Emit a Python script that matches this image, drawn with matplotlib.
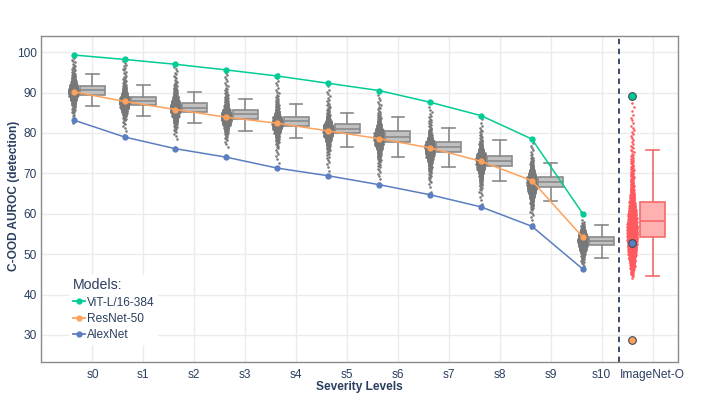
import matplotlib
matplotlib.use('Agg')
import matplotlib.pyplot as plt
from matplotlib.lines import Line2D
import numpy as np

plt.rcParams['font.family'] = ['Liberation Sans', 'DejaVu Sans']

# ---------------- data ----------------
categories = ['s0', 's1', 's2', 's3', 's4', 's5', 's6', 's7', 's8', 's9', 's10', 'ImageNet-O']

vit = [99.3, 98.2, 97.0, 95.6, 94.1, 92.3, 90.5, 87.6, 84.3, 78.5, 60.0]
resnet = [90.2, 87.8, 85.8, 83.9, 82.4, 80.5, 78.6, 76.3, 73.0, 68.2, 54.2]
alexnet = [83.2, 79.0, 76.1, 74.0, 71.3, 69.4, 67.2, 64.7, 61.7, 56.9, 46.3]

imagenet_o_vit = 89.2
imagenet_o_resnet = 28.7
imagenet_o_alexnet = 52.8

box_q1 = [89.5, 86.8, 85.1, 83.4, 81.7, 79.9, 77.7, 75.2, 71.9, 66.5, 52.2, 54.2]
box_med = [90.6, 87.9, 86.2, 84.6, 82.9, 81.0, 79.1, 76.6, 73.1, 67.8, 53.3, 58.1]
box_q3 = [91.6, 88.9, 87.3, 85.6, 83.9, 82.3, 80.4, 77.8, 74.4, 69.0, 54.3, 62.9]
box_lo = [86.6, 84.1, 82.4, 80.5, 78.7, 76.4, 74.0, 71.5, 68.2, 63.1, 49.1, 44.7]
box_hi = [94.6, 91.8, 90.1, 88.5, 87.1, 85.0, 84.0, 81.3, 78.2, 72.5, 57.2, 75.8]

# histogram of model scores per group (1-unit bins starting at swarm_start)
swarm_start = [82, 79, 76, 74, 71, 69, 67, 64, 61, 56, 46, 44]
swarm_counts = [
    [1, 2, 3, 5, 10, 30, 55, 85, 95, 70, 45, 25, 12, 6, 4, 3, 3, 1],
    [1, 1, 2, 3, 6, 20, 45, 75, 90, 80, 50, 28, 14, 6, 4, 3, 3, 3, 2, 1],
    [1, 0, 1, 2, 3, 6, 16, 35, 60, 85, 90, 70, 45, 25, 12, 6, 4, 3, 3, 2, 2],
    [1, 0, 1, 2, 3, 6, 16, 38, 65, 85, 85, 60, 35, 18, 8, 5, 4, 3, 2, 2, 2, 1],
    [1, 1, 1, 2, 2, 3, 6, 13, 28, 55, 80, 90, 75, 45, 22, 10, 6, 4, 3, 2, 2, 2, 1, 1],
    [1, 1, 1, 2, 2, 3, 6, 13, 28, 50, 75, 90, 85, 55, 28, 12, 6, 4, 3, 2, 2, 2, 1, 1],
    [1, 1, 2, 2, 3, 4, 7, 15, 28, 50, 70, 85, 85, 65, 38, 18, 9, 5, 3, 3, 2, 2, 1, 1],
    [1, 1, 1, 2, 3, 4, 7, 15, 28, 45, 65, 80, 85, 70, 42, 20, 10, 5, 4, 3, 2, 2, 1, 1],
    [1, 1, 1, 2, 3, 4, 7, 15, 28, 45, 65, 80, 85, 70, 42, 20, 10, 5, 3, 3, 2, 1, 1, 1],
    [1, 1, 1, 2, 3, 5, 10, 22, 40, 60, 75, 85, 80, 60, 38, 20, 10, 5, 3, 2, 2, 1, 1],
    [1, 3, 6, 16, 35, 60, 80, 90, 75, 45, 20, 6, 1, 0, 1],
    [3, 8, 14, 18, 22, 26, 30, 32, 34, 36, 38, 38, 38, 36, 34, 30, 28, 24, 22, 18, 16,
     14, 12, 10, 9, 8, 7, 6, 5, 4, 4, 3, 3, 2, 2, 2, 2, 2, 1, 2, 1, 1, 1, 1, 1],
]

# ---------------- style ----------------
TEXT = '#2a3f5f'
GREEN = '#00CC96'
ORANGE = '#FFA15A'
BLUE = '#5A7EC0'
GREY_PT = '#787878'
RED_PT = '#FF5A5F'

fig = plt.figure(figsize=(7.06, 3.97), dpi=100)
ax = fig.add_axes([41 / 706, 35 / 397, 637 / 706, 326 / 397])

n_cat = len(categories)
pos = np.arange(n_cat)
OFF = -0.37

ax.set_xlim(-1.01, 11.5)
ax.set_ylim(23.3, 104.0)
ax.set_xticks(pos)
ax.set_xticklabels(categories)
ax.set_yticks([30, 40, 50, 60, 70, 80, 90, 100])
ax.grid(color='#ebebeb', lw=1)
ax.set_axisbelow(True)
ax.tick_params(length=0, labelsize=8.6, colors=TEXT)
ax.tick_params(axis='x', pad=5)
ax.tick_params(axis='y', pad=3)
for s in ax.spines.values():
    s.set_color('#8a8a8a')
    s.set_linewidth(1)


def swarm(xc, start, counts, color, maxw, size, minw):
    mx = max(counts)
    xs, ys = [], []
    k = 0
    for b, n in enumerate(counts):
        if n == 0:
            continue
        hw = max(minw, maxw * n / mx)
        for j in range(n):
            ys.append(start + b + (j + 0.5) / n)
            xs.append(xc + hw * (2 * (((k + 0.5) * 0.6180339887) % 1.0) - 1))
            k += 1
    ax.scatter(xs, ys, s=size, c=color, linewidths=0, zorder=3)


for i in range(n_cat):
    if i < 11:
        swarm(pos[i] + OFF, swarm_start[i], swarm_counts[i], GREY_PT, 0.095, 3.4, 0.03)
    else:
        swarm(pos[i] - 0.40, swarm_start[i], swarm_counts[i], RED_PT, 0.10, 3.4, 0.03)

stats = []
for i in range(n_cat):
    stats.append(dict(med=box_med[i], q1=box_q1[i], q3=box_q3[i],
                      whislo=box_lo[i], whishi=box_hi[i], fliers=[]))
res = ax.bxp(stats, positions=pos, widths=0.49, capwidths=0.25, patch_artist=True,
             showfliers=False, manage_ticks=False)
for i in range(n_cat):
    if i < 11:
        fc, ec = '#c0c0c0', '#8a8a8a'
    else:
        fc, ec = '#FFB0B0', '#F26B6B'
    res['boxes'][i].set(facecolor=fc, edgecolor=ec, linewidth=1.2, zorder=4)
    res['medians'][i].set(color=ec, linewidth=1.2, zorder=4)
    for w in res['whiskers'][2 * i:2 * i + 2]:
        w.set(color=ec, linewidth=1.2, zorder=4)
    for c in res['caps'][2 * i:2 * i + 2]:
        c.set(color=ec, linewidth=1.2, zorder=4)

xl = pos[:11] + OFF
ax.plot(xl, vit, color=GREEN, lw=1.1, marker='o', ms=3.5, zorder=5)
ax.plot(xl, resnet, color=ORANGE, lw=1.1, marker='o', ms=3.5, zorder=5)
ax.plot(xl, alexnet, color=BLUE, lw=1.1, marker='o', ms=3.5, zorder=5)

xo = pos[11] - 0.40
ax.plot([xo], [imagenet_o_vit], 'o', color=GREEN, ms=5.5, mec='#3a4a5a', mew=0.8, zorder=6)
ax.plot([xo], [imagenet_o_alexnet], 'o', color=BLUE, ms=5.5, mec='#3a4a5a', mew=0.8, zorder=6)
ax.plot([xo], [imagenet_o_resnet], 'o', color=ORANGE, ms=5.5, mec='#3a4a5a', mew=0.8, zorder=6)

ax.axvline(10.35, color=TEXT, lw=1.3, ls=(0, (3, 2.5)), zorder=2)

handles = [Line2D([], [], color=GREEN, lw=1.3, marker='o', ms=3.5),
           Line2D([], [], color=ORANGE, lw=1.3, marker='o', ms=3.5),
           Line2D([], [], color=BLUE, lw=1.3, marker='o', ms=3.5)]
leg = ax.legend(handles, ['ViT-L/16-384', 'ResNet-50', 'AlexNet'], title='Models:',
                loc='lower left', bbox_to_anchor=(0.035, 0.035), fontsize=8.6,
                title_fontsize=10.2, frameon=True, facecolor='white', edgecolor='none',
                framealpha=1, handlelength=1.0, handletextpad=0.2, labelspacing=0.35,
                borderpad=0.3, alignment='left')
leg.get_title().set_color(TEXT)
for t in leg.get_texts():
    t.set_color(TEXT)
leg.set_zorder(7)

fig.text(14 / 706, 1 - 196 / 397, 'C-OOD AUROC (detection)', rotation=90, ha='center',
         va='center', fontsize=8.6, fontweight='bold', color=TEXT)
fig.text(359.5 / 706, 1 - 387 / 397, 'Severity Levels', ha='center', va='center',
         fontsize=8.6, fontweight='bold', color=TEXT)

fig.savefig('out.png', dpi=100)
